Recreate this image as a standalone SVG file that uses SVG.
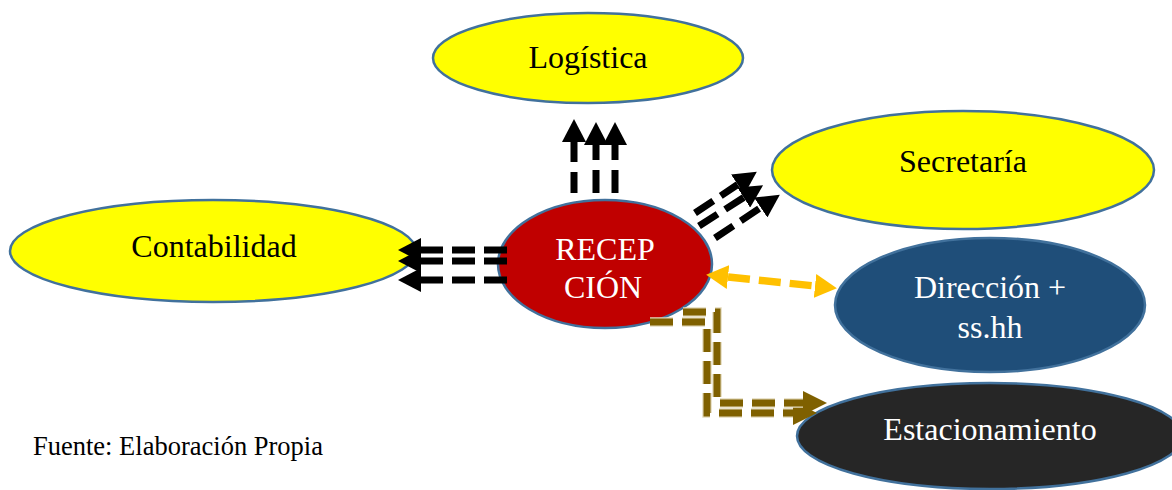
<svg xmlns="http://www.w3.org/2000/svg" width="1172" height="490" viewBox="0 0 1172 490">
<style>
.node{stroke:#41719C;stroke-width:2.5}
.lbl{font-family:"Liberation Serif","Times New Roman",serif;font-size:32px;text-anchor:middle}
.blk{fill:none;stroke:#000;stroke-width:7;stroke-dasharray:22 9}
.ylw{fill:none;stroke:#FFC000;stroke-width:7.5;stroke-dasharray:22 9}
.brn{fill:none;stroke:#7F6000;stroke-width:7;stroke-dasharray:23 9;stroke-linejoin:miter}
.brnO{fill:none;stroke:#E4DABD;stroke-width:9.5;stroke-dasharray:23 9;stroke-linejoin:miter}
</style>
<defs>
<marker id="hb" markerUnits="userSpaceOnUse" viewBox="0 0 23 24" markerWidth="23" markerHeight="24" refX="0" refY="12" orient="auto"><path d="M0,0 L23,12 L0,24 z" fill="#000"/></marker>
<marker id="hy" markerUnits="userSpaceOnUse" viewBox="0 0 22 24" markerWidth="22" markerHeight="24" refX="0" refY="12" orient="auto-start-reverse"><path d="M0,0 L22,12 L0,24 z" fill="#FFC000"/></marker>
<marker id="hn" markerUnits="userSpaceOnUse" viewBox="0 0 24 24" markerWidth="24" markerHeight="24" refX="0" refY="12" orient="auto"><path d="M0,0 L24,12 L0,24 z" fill="#7F6000"/></marker>
</defs>

<g id="logistica">
<ellipse class="node" cx="588" cy="58" rx="155" ry="45" fill="#FFFF00"/>
<text class="lbl" x="588" y="68" fill="#000">Logística</text>
</g>
<g id="secretaria">
<ellipse class="node" cx="963" cy="170" rx="191" ry="59" fill="#FFFF00"/>
<text class="lbl" x="963" y="172" fill="#000">Secretaría</text>
</g>
<g id="contabilidad">
<ellipse class="node" cx="213" cy="251" rx="203" ry="51" fill="#FFFF00"/>
<text class="lbl" x="214" y="257" fill="#000">Contabilidad</text>
</g>
<g id="recepcion">
<ellipse class="node" cx="605" cy="264" rx="107" ry="64" fill="#C00000"/>
<text class="lbl" x="605" y="260" fill="#FFFFFF">RECEP</text>
<text class="lbl" x="603" y="298" fill="#FFFFFF">CIÓN</text>
</g>
<g id="direccion">
<ellipse class="node" cx="990" cy="305" rx="155" ry="67" fill="#1F4E79"/>
<text class="lbl" x="990" y="298" fill="#FFFFFF">Dirección +</text>
<text class="lbl" x="990" y="338" fill="#FFFFFF">ss.hh</text>
</g>
<g id="estacionamiento">
<ellipse class="node" cx="990" cy="436" rx="193" ry="53" fill="#262626"/>
<text class="lbl" x="990" y="440" fill="#FFFFFF">Estacionamiento</text>
</g>

<g id="connectors">
<!-- up to Logística -->
<line class="blk" x1="574" y1="193" x2="574" y2="142" style="stroke-dasharray:21 10" marker-end="url(#hb)"/>
<line class="blk" x1="596" y1="193" x2="596" y2="145" style="stroke-dasharray:23 10" marker-end="url(#hb)"/>
<line class="blk" x1="615" y1="193" x2="615" y2="145" style="stroke-dasharray:23 10" marker-end="url(#hb)"/>
<!-- to Secretaría -->
<line class="blk" x1="695" y1="213" x2="737.7" y2="184.5" marker-end="url(#hb)"/>
<line class="blk" x1="699" y1="226" x2="743.7" y2="197.5" marker-end="url(#hb)"/>
<line class="blk" x1="715" y1="238" x2="760.7" y2="207.5" marker-end="url(#hb)"/>
<!-- to Contabilidad -->
<line class="blk" x1="507" y1="250" x2="421" y2="250" style="stroke-dasharray:23 9" marker-end="url(#hb)"/>
<line class="blk" x1="507" y1="261" x2="421" y2="261" style="stroke-dasharray:23 9" marker-end="url(#hb)"/>
<line class="blk" x1="507" y1="280" x2="421" y2="280" style="stroke-dasharray:23 9" marker-end="url(#hb)"/>
<!-- Recepción <-> Dirección -->
<line class="ylw" x1="728" y1="277" x2="815" y2="286" marker-start="url(#hy)" marker-end="url(#hy)"/>
<!-- to Estacionamiento -->
<path class="brnO" d="M650,322 H707 V413 H793"/>
<path class="brn" d="M650,322 H707 V413 H793" marker-end="url(#hn)"/>
<path class="brnO" d="M683,312 H717 V403 H803"/>
<path class="brn" d="M683,312 H717 V403 H803" marker-end="url(#hn)"/>
</g>

<text x="33" y="455" font-family="Liberation Serif, Times New Roman, serif" font-size="26.5" fill="#000">Fuente: Elaboración Propia</text>
</svg>
